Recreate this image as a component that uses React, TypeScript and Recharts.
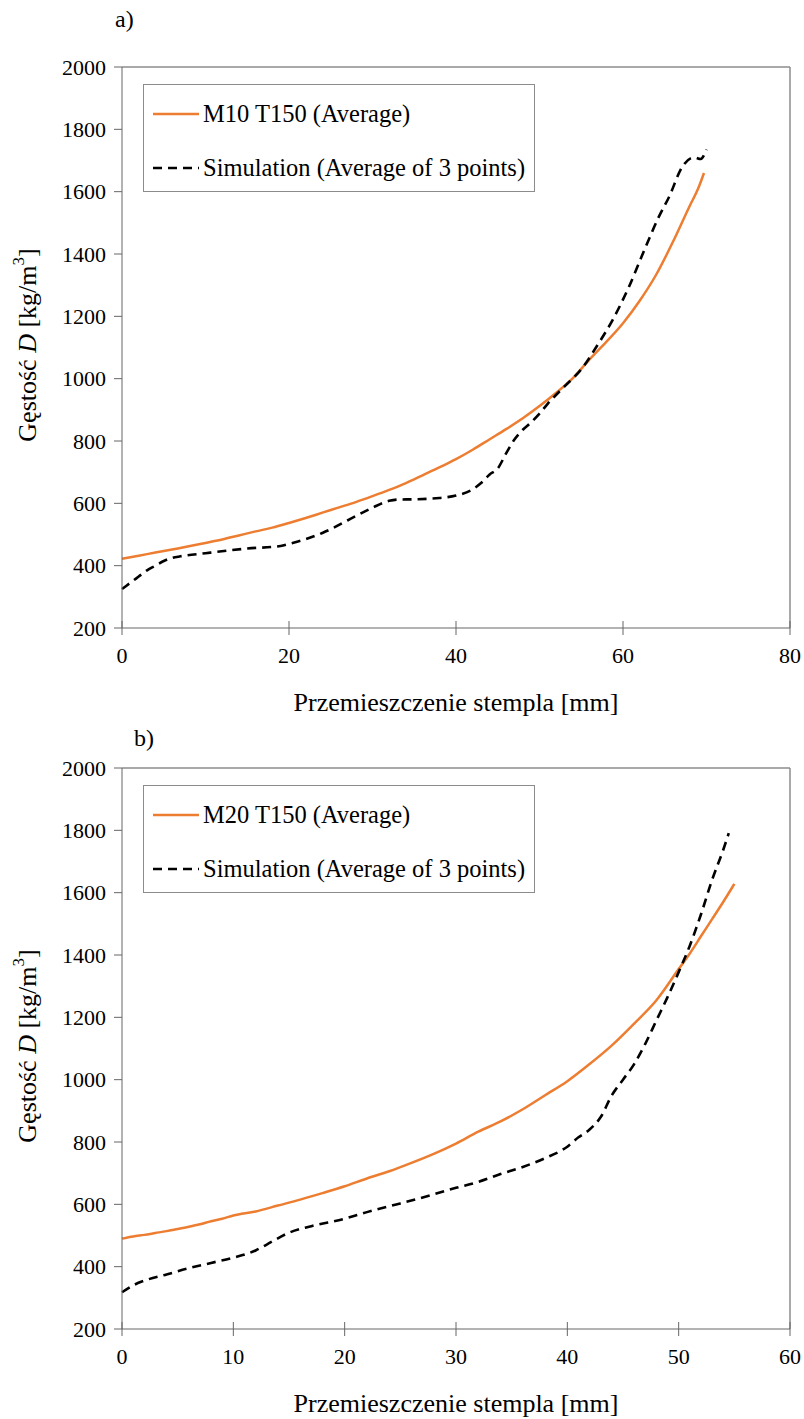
import { LineChart, Line, XAxis, YAxis, Legend, ReferenceLine } from 'recharts';

const FONT = 'Liberation Serif, Tinos, Times New Roman, DejaVu Serif, serif';
const ORANGE = '#ED7D31';
const AXIS = '#666666';
const FRAME = '#8c8c8c';

// a) M10 T150
const aMeasX = [0, 2, 4, 6, 8, 10, 12, 14, 16, 18, 20, 22, 24, 26, 28, 30, 32, 34, 36, 38, 40, 42, 44, 46, 48, 50, 52, 54, 56, 58, 60, 62, 64, 66, 68, 69, 69.7];
const aMeasY = [422, 432, 442, 452, 462, 473, 484, 497, 510, 522, 537, 553, 570, 587, 604, 623, 643, 665, 690, 715, 742, 772, 805, 838, 873, 912, 955, 1002, 1062, 1118, 1178, 1250, 1335, 1440, 1555, 1610, 1660];
const aSimX = [0, 1, 2, 3, 4, 5, 6, 7, 10, 15, 19, 20, 22, 24, 25, 27, 28, 30, 32, 33, 35, 38, 40, 42, 43, 44, 45, 46, 47, 48, 49, 50, 51, 53, 55, 57, 58.75, 60.7, 62.7, 64.3, 65.5, 67.1, 68.5, 69.3, 70];
const aSimY = [325, 345, 365, 385, 400, 415, 425, 430, 440, 455, 463, 470, 485, 505, 517, 545, 559, 586, 608, 612, 613, 617, 625, 645, 665, 692, 712, 760, 805, 836, 860, 888, 920, 975, 1030, 1110, 1188, 1294, 1422, 1520, 1582, 1680, 1710, 1705, 1735];
const aTicksX = [0, 20, 40, 60, 80];

// b) M20 T150
const bMeasX = [0, 1, 2, 3, 4, 5, 6, 7, 8, 9, 10, 12, 14, 16, 18, 20, 22, 24, 26, 28, 30, 32, 34, 36, 38, 40, 42, 44, 46, 48, 50, 51, 52, 53, 54, 55];
const bMeasY = [490, 497, 502, 508, 514, 521, 528, 536, 546, 554, 564, 577, 596, 615, 636, 658, 683, 706, 733, 762, 795, 833, 866, 905, 950, 995, 1050, 1110, 1180, 1255, 1355, 1405, 1460, 1515, 1570, 1628];
const bSimX = [0, 1, 2, 4, 6, 8, 10, 12, 13, 15, 17, 20, 22, 25, 28, 30, 32, 34, 36, 38, 40, 41, 42, 43, 44, 45, 46, 47, 48, 49, 50, 51, 52, 53, 54, 54.5];
const bSimY = [318, 340, 355, 375, 395, 412, 429, 452, 471, 509, 530, 554, 575, 603, 632, 653, 672, 697, 720, 748, 785, 815, 840, 880, 950, 1000, 1050, 1115, 1190, 1265, 1345, 1430, 1530, 1641, 1737, 1791];
const bTicksX = [0, 10, 20, 30, 40, 50, 60];

const yTicks = [200, 400, 600, 800, 1000, 1200, 1400, 1600, 1800, 2000];

const toPoints = (xs: number[], ys: number[]) => xs.map((x, i) => ({ x, y: ys[i] }));

const TICK = 7;
const TICK_MARGIN = 20;

const XTick = (p: any) => {
    const axisY = p.y - TICK - TICK_MARGIN;
    return (
        <g>
            <line x1={p.x} x2={p.x} y1={axisY - TICK} y2={axisY} stroke={AXIS} />
            <text x={p.x} y={p.y} dominantBaseline="central" textAnchor="middle" style={{ fontFamily: FONT }} fontSize={22} fill="#000">
                {p.payload.value}
            </text>
        </g>
    );
};

const YTick = (p: any) => (
    <text x={p.x} y={p.y} dominantBaseline="central" textAnchor="end" style={{ fontFamily: FONT }} fontSize={22} fill="#000">
        {p.payload.value}
    </text>
);

const renderLegend = (props: any) => {
    const items = props.payload || [];
    return (
        <div style={{ width: 392, height: 108, border: `1px solid ${FRAME}`, boxSizing: 'border-box', background: '#fff', position: 'relative' }}>
            {items.map((it: any, i: number) => (
                <div key={i} style={{ position: 'absolute', left: 9, top: 29 + i * 54 - 15, height: 30, display: 'flex', alignItems: 'center' }}>
                    <svg width={46} height={10}>
                        <line x1={0} x2={46} y1={5} y2={5} stroke={it.color} strokeWidth={2.5}
                            strokeDasharray={it.payload?.strokeDasharray} />
                    </svg>
                    <span style={{ fontFamily: FONT, fontSize: 24.5, color: '#000', marginLeft: 4, whiteSpace: 'nowrap' }}>{it.value}</span>
                </div>
            ))}
        </div>
    );
};

function DensityChart({ measX, measY, simX, simY, ticksX, measName }: {
    measX: number[]; measY: number[]; simX: number[]; simY: number[]; ticksX: number[]; measName: string;
}) {
    const xMax = ticksX[ticksX.length - 1];
    return (
        <LineChart width={804} height={718} margin={{ top: 67, right: 14, bottom: 0, left: 0 }}>
            <XAxis
                type="number"
                dataKey="x"
                domain={[0, xMax]}
                ticks={ticksX}
                interval={0}
                height={90}
                stroke={AXIS}
                tickSize={TICK}
                tickMargin={TICK_MARGIN}
                tick={XTick}
                label={{
                    content: (lp: any) => {
                        const vb = lp.viewBox || {};
                        return (
                            <text x={vb.x + vb.width / 2} y={628 + 74} textAnchor="middle" dominantBaseline="central"
                                style={{ fontFamily: FONT }} fontSize={26} fill="#000">
                                Przemieszczenie stempla [mm]
                            </text>
                        );
                    },
                }}
            />
            <YAxis
                type="number"
                domain={[200, 2000]}
                ticks={yTicks}
                interval={0}
                width={122}
                stroke={AXIS}
                tickSize={8}
                tickMargin={8}
                tick={YTick}
                label={{
                    content: () => (
                        <text transform="translate(27, 345) rotate(-90)" textAnchor="middle" dominantBaseline="central"
                            style={{ fontFamily: FONT }} fontSize={26} fill="#000">
                            Gęstość <tspan fontStyle="italic">D</tspan> [kg/m<tspan dy={-9} fontSize={17}>3</tspan><tspan dy={9}>]</tspan>
                        </text>
                    ),
                }}
            />
            <ReferenceLine y={2000} stroke={FRAME} strokeWidth={1.5} />
            <ReferenceLine x={xMax} stroke={FRAME} strokeWidth={1.5} />
            <Legend
                layout="vertical"
                align="center"
                verticalAlign="middle"
                content={renderLegend}
                wrapperStyle={{ position: 'absolute', left: 143, top: 84, width: 392, height: 108 }}
            />
            <Line
                data={toPoints(measX, measY)}
                dataKey="y"
                name={measName}
                type="monotone"
                stroke={ORANGE}
                strokeWidth={2.5}
                dot={false}
                isAnimationActive={false}
            />
            <Line
                data={toPoints(simX, simY)}
                dataKey="y"
                name="Simulation (Average of 3 points)"
                type="monotone"
                stroke="#000"
                strokeWidth={2.6}
                strokeDasharray="9 6"
                dot={false}
                isAnimationActive={false}
            />
        </LineChart>
    );
}

const panelLabel = { position: 'absolute' as const, fontFamily: FONT, fontSize: 24, color: '#000', lineHeight: '24px' };

export default function App() {
    return (
        <div style={{ position: 'absolute', left: 0, top: 0, width: 804, height: 1419, background: '#fff', overflow: 'hidden' }}>
            <div style={{ position: 'absolute', left: 0, top: 0 }}>
                <DensityChart measX={aMeasX} measY={aMeasY} simX={aSimX} simY={aSimY} ticksX={aTicksX} measName="M10 T150 (Average)" />
            </div>
            <div style={{ position: 'absolute', left: 0, top: 701 }}>
                <DensityChart measX={bMeasX} measY={bMeasY} simX={bSimX} simY={bSimY} ticksX={bTicksX} measName="M20 T150 (Average)" />
            </div>
            <div style={{ ...panelLabel, left: 115, top: 7 }}>a)</div>
            <div style={{ ...panelLabel, left: 134, top: 726 }}>b)</div>
        </div>
    );
}
